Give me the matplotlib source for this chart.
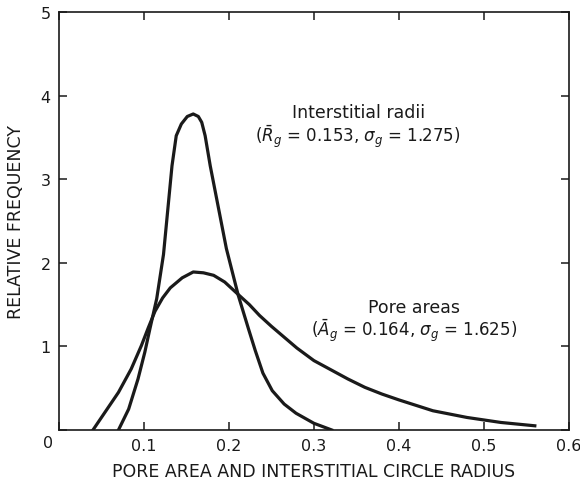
import matplotlib
matplotlib.use("Agg")
import matplotlib.pyplot as plt

plt.rcParams['font.family'] = 'DejaVu Sans'
plt.rcParams['mathtext.fontset'] = 'dejavusans'

# pore area distribution
pore_x = [0.040, 0.054, 0.070, 0.085, 0.097, 0.105, 0.113, 0.122, 0.131,
          0.145, 0.158, 0.170, 0.182, 0.195, 0.211, 0.224, 0.236, 0.250,
          0.265, 0.280, 0.300, 0.320, 0.340, 0.360, 0.380, 0.400, 0.440,
          0.480, 0.520, 0.560]
pore_y = [0.00, 0.21, 0.45, 0.73, 1.01, 1.22, 1.42, 1.58, 1.70,
          1.82, 1.89, 1.88, 1.85, 1.77, 1.62, 1.50, 1.37, 1.24,
          1.11, 0.98, 0.83, 0.72, 0.61, 0.51, 0.43, 0.36, 0.23,
          0.15, 0.09, 0.05]

# interstitial circle radius distribution
rad_x = [0.070, 0.082, 0.093, 0.101, 0.107, 0.115, 0.123, 0.133, 0.138,
         0.144, 0.151, 0.158, 0.164, 0.168, 0.172, 0.178, 0.197, 0.211,
         0.223, 0.231, 0.240, 0.251, 0.265, 0.279, 0.300, 0.321]
rad_y = [0.00, 0.25, 0.61, 0.93, 1.21, 1.57, 2.10, 3.16, 3.52,
         3.66, 3.75, 3.78, 3.75, 3.68, 3.52, 3.16, 2.17, 1.61,
         1.21, 0.95, 0.68, 0.47, 0.31, 0.20, 0.08, 0.00]

xticks = [0, 0.1, 0.2, 0.3, 0.4, 0.5, 0.6]
xlabels = ['', '0.1', '0.2', '0.3', '0.4', '0.5', '0.6']
yticks = [0, 1, 2, 3, 4, 5]
ylabels = ['', '1', '2', '3', '4', '5']

ink = '#1a1a1a'

fig = plt.figure(figsize=(5.8, 4.81), dpi=100)
ax = fig.add_axes([0.1017, 0.104, 0.879, 0.869])

ax.plot(pore_x, pore_y, color=ink, lw=2.3, solid_joinstyle='round')
ax.plot(rad_x, rad_y, color=ink, lw=2.3, solid_joinstyle='round')

ax.set_xlim(0, 0.6)
ax.set_ylim(0, 5)
ax.set_xticks(xticks)
ax.set_xticklabels(xlabels)
ax.set_yticks(yticks)
ax.set_yticklabels(ylabels)
ax.tick_params(direction='in', length=6, width=1.1, top=True, right=True,
               labelsize=11.5, colors=ink, pad=6)
for s in ax.spines.values():
    s.set_linewidth(1.2)
    s.set_color(ink)

# shared origin label
ax.text(-0.013, -0.15, '0', ha='center', va='center', fontsize=11.5,
        color=ink, clip_on=False)

ax.set_xlabel('PORE AREA AND INTERSTITIAL CIRCLE RADIUS', fontsize=12.5,
              color=ink, labelpad=6)
ax.set_ylabel('RELATIVE FREQUENCY', fontsize=12.5, color=ink, labelpad=11)

ax.text(0.352, 3.80, 'Interstitial radii', ha='center', va='center',
        fontsize=12.5, color=ink)
ax.text(0.352, 3.52, r'($\bar{R}_g$ = 0.153, $\sigma_g$ = 1.275)',
        ha='center', va='center', fontsize=12, color=ink)
ax.text(0.418, 1.47, 'Pore areas', ha='center', va='center',
        fontsize=12.5, color=ink)
ax.text(0.418, 1.20, r'($\bar{A}_g$ = 0.164, $\sigma_g$ = 1.625)',
        ha='center', va='center', fontsize=12, color=ink)

fig.savefig('out.png', dpi=100)
